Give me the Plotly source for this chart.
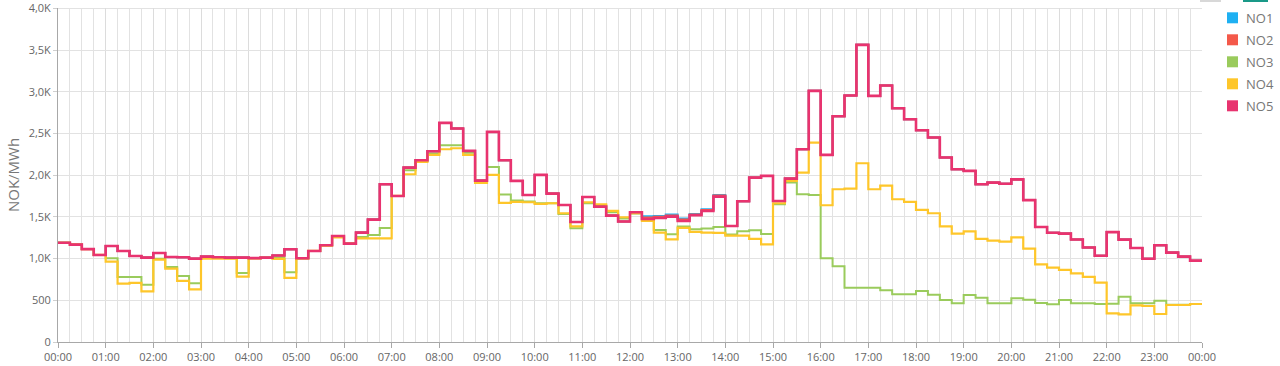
import plotly.graph_objects as go

# quarter-hour slots (index 0..95)
slot_labels = [f"{h:02d}:{m:02d}" for h in range(24) for m in (0, 15, 30, 45)]
hour_labels = [f"{h:02d}:00" for h in range(24)] + ["00:00"]

no5 = [1190, 1168, 1114, 1044, 1152, 1092, 1032, 1012, 1068, 1020, 1016, 1000,
       1024, 1016, 1012, 1012, 1006, 1012, 1038, 1112, 1004, 1092, 1160, 1272,
       1180, 1312, 1468, 1892, 1752, 2092, 2180, 2288, 2628, 2560, 2292, 1936,
       2520, 2180, 1932, 1764, 2004, 1780, 1644, 1440, 1740, 1624, 1516, 1446,
       1556, 1476, 1488, 1504, 1452, 1520, 1572, 1744, 1392, 1688, 1972, 1992,
       1692, 1960, 2312, 3012, 2244, 2708, 2956, 3564, 2952, 3076, 2804, 2672,
       2540, 2452, 2212, 2072, 2052, 1892, 1912, 1898, 1950, 1702, 1380, 1310,
       1300, 1230, 1134, 1034, 1318, 1228, 1128, 998, 1160, 1072, 1024, 976]

no1 = list(no5)
no1[49:56] = [1508, 1512, 1528, 1480, 1536, 1592, 1764]

no2 = list(no5)
no2[49:56] = [1494, 1502, 1518, 1468, 1530, 1584, 1756]

no3 = [1190, 1168, 1114, 1044, 1004, 780, 780, 688, 1000, 900, 792, 704,
       1008, 1008, 1004, 828, 1004, 1010, 1010, 836, 1004, 1092, 1160, 1258,
       1180, 1260, 1284, 1368, 1752, 2060, 2170, 2260, 2360, 2360, 2270, 1916,
       2100, 1768, 1696, 1684, 1664, 1664, 1536, 1364, 1664, 1644, 1556, 1480,
       1540, 1468, 1344, 1292, 1384, 1352, 1360, 1380, 1290, 1328, 1340, 1296,
       1652, 1912, 1772, 1764, 1004, 908, 652, 652, 652, 620, 572, 572,
       612, 568, 504, 464, 564, 532, 464, 464, 524, 508, 468, 452,
       504, 464, 464, 456, 460, 544, 464, 464, 496, 448, 448, 456]

no4 = [1190, 1168, 1114, 1044, 964, 700, 708, 608, 988, 880, 732, 632,
       1000, 1000, 1000, 784, 1004, 1008, 996, 768, 1004, 1092, 1156, 1256,
       1180, 1244, 1244, 1244, 1752, 2012, 2160, 2244, 2312, 2324, 2244, 1908,
       2004, 1668, 1680, 1676, 1656, 1664, 1544, 1388, 1676, 1652, 1572, 1496,
       1544, 1452, 1312, 1232, 1368, 1320, 1312, 1308, 1276, 1276, 1238, 1172,
       1664, 1932, 2032, 2392, 1640, 1832, 1840, 2144, 1832, 1876, 1712, 1680,
       1584, 1544, 1388, 1300, 1328, 1236, 1216, 1204, 1256, 1120, 932, 892,
       864, 824, 780, 712, 344, 332, 440, 432, 336, 444, 444, 456]

series = [("NO1", no1, "#1eb0f2", 2), ("NO2", no2, "#f4594a", 2),
          ("NO3", no3, "#9acb5c", 2), ("NO4", no4, "#fec62a", 2.2),
          ("NO5", no5, "#e8336f", 2.6)]

y_ticks = [0, 500, 1000, 1500, 2000, 2500, 3000, 3500, 4000]
y_text = ["0", "500", "1,0K", "1,5K", "2,0K", "2,5K", "3,0K", "3,5K", "4,0K"]

def slot_to_hours(lbl):
    h, m = lbl.split(":")
    return int(h) + int(m) / 60

xs = [slot_to_hours(s) for s in slot_labels] + [24]

L, R, T, B = 58, 78, 8, 24
PW, PH = 1280 - L - R, 366 - T - B

def px(xpix):
    return (xpix - L) / PW

def py(ypix):
    return (366 - B - ypix) / PH

fig = go.Figure()
for name, vals, color, w in series:
    fig.add_trace(go.Scatter(x=xs, y=vals + [vals[-1]], mode="lines",
                             line=dict(color=color, width=w, shape="hv"),
                             name=name, showlegend=False, hoverinfo="skip"))

shapes = [
    dict(type="line", xref="paper", yref="y", x0=0, x1=1, y0=4000, y1=4000,
         line=dict(color="#e2e2e2", width=1), layer="below"),
    dict(type="rect", xref="paper", yref="paper", x0=px(1200), x1=px(1221),
         y0=py(2), y1=py(-2), fillcolor="#d8d8d8", line=dict(width=0)),
    dict(type="rect", xref="paper", yref="paper", x0=px(1243), x1=px(1268),
         y0=py(2), y1=py(-2), fillcolor="#1a9988", line=dict(width=0)),
]
annotations = []
for i, (name, vals, color, w) in enumerate(series):
    cy = 17.8 + 22 * i
    shapes.append(dict(type="rect", xref="paper", yref="paper",
                       x0=px(1227), x1=px(1238), y0=py(cy + 5.5), y1=py(cy - 5.5),
                       fillcolor=color, line=dict(width=0)))
    annotations.append(dict(xref="paper", yref="paper", x=px(1244), y=py(cy),
                            xanchor="left", yanchor="middle", text=name,
                            showarrow=False,
                            font=dict(size=13, color="#777777")))

font = "Open Sans, Noto Sans, sans-serif"
fig.update_layout(
    width=1280, height=366,
    margin=dict(l=L, r=R, t=T, b=B, autoexpand=False),
    paper_bgcolor="white", plot_bgcolor="white",
    font=dict(family=font, size=11, color="#666666"),
    showlegend=False,
    xaxis=dict(range=[0, 24], tickmode="array",
               tickvals=list(range(25)), ticktext=hour_labels,
               showgrid=True, gridcolor="#dcdcdc", gridwidth=1,
               minor=dict(dtick=0.25, showgrid=True, gridcolor="#e2e2e2",
                          gridwidth=1, ticks=""),
               showline=True, linecolor="#a8a8a8", linewidth=1,
               ticks="outside", ticklen=5, tickcolor="#a8a8a8",
               tickfont=dict(size=11, color="#666666"), zeroline=False,
               automargin=False, fixedrange=True, ticklabeloverflow="allow"),
    yaxis=dict(range=[0, 4006], tickmode="array", tickvals=y_ticks,
               ticktext=y_text, showgrid=True, gridcolor="#e2e2e2",
               gridwidth=1, showline=True, linecolor="#a8a8a8", linewidth=1,
               ticks="outside", ticklen=4, tickcolor="#cfcfcf",
               tickfont=dict(size=11, color="#666666"), zeroline=False,
               automargin=False, ticklabeloverflow="allow",
               title=dict(text="NOK/MWh", font=dict(size=15, color="#777777"),
                          standoff=5)),
    shapes=shapes,
    annotations=annotations,
)

fig.write_html("out.html")
